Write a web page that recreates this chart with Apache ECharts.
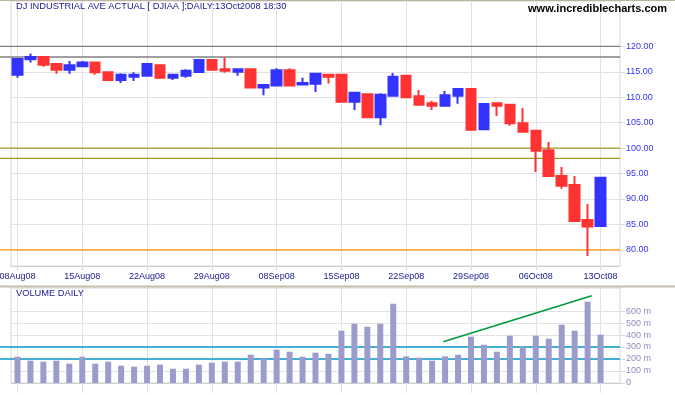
<!DOCTYPE html>
<html><head><meta charset="utf-8">
<script src="https://cdn.jsdelivr.net/npm/echarts@6/dist/echarts.min.js"></script>
<style>html,body{margin:0;padding:0;background:#fff}#c{width:675px;height:395px}</style>
</head><body><div id="c"></div>
<script>
// ---- data ----
const dates = ['08Aug08','11Aug08','12Aug08','13Aug08','14Aug08','15Aug08','18Aug08','19Aug08','20Aug08','21Aug08',
  '22Aug08','25Aug08','26Aug08','27Aug08','28Aug08','29Aug08','02Sep08','03Sep08','04Sep08','05Sep08',
  '08Sep08','09Sep08','10Sep08','11Sep08','12Sep08','15Sep08','16Sep08','17Sep08','18Sep08','19Sep08',
  '22Sep08','23Sep08','24Sep08','25Sep08','26Sep08','29Sep08','30Sep08','01Oct08','02Oct08','03Oct08',
  '06Oct08','07Oct08','08Oct08','09Oct08','10Oct08','13Oct08'];
const tickLabels = ['08Aug08','15Aug08','22Aug08','29Aug08','08Sep08','15Sep08','22Sep08','29Sep08','06Oct08','13Oct08'];
const openV  = [114.4,117.45,117.9,116.5,115.4,116.1,116.8,114.9,113.4,114.0,114.2,116.3,113.8,114.2,114.95,117.3,115.5,115.0,115.5,111.9,112.3,115.3,112.5,112.65,114.4,114.4,109.1,110.6,106.05,110.3,114.2,110.2,108.8,108.3,110.3,111.6,103.7,108.8,108.5,104.9,103.4,99.6,94.5,92.75,85.9,84.7];
const closeV = [117.5,117.9,116.4,115.4,116.3,116.8,114.9,113.4,114.4,114.4,116.5,113.8,114.4,115.2,117.3,115.4,115.2,115.5,111.9,112.4,115.3,112.3,112.8,114.6,114.0,109.1,110.9,106.05,110.5,114.0,110.0,108.5,108.3,110.4,111.6,103.6,108.65,108.3,104.9,103.2,99.5,94.5,92.6,85.7,84.6,94.2];
const lowV   = [113.8,116.8,116.0,114.6,114.6,116.0,114.4,113.2,112.8,113.2,114.2,113.6,113.4,113.8,114.9,115.4,114.8,114.2,111.9,110.4,112.3,112.3,112.3,111.0,112.7,109.1,107.5,105.85,104.5,110.3,109.8,108.3,107.5,108.3,108.7,103.6,103.7,106.3,104.4,103.2,95.3,94.3,92.0,85.7,78.8,84.7];
const highV  = [117.6,118.6,118.0,116.5,117.1,117.1,116.9,114.9,114.7,114.9,116.5,116.3,114.4,115.5,117.3,117.3,117.84,115.5,115.5,112.4,115.7,115.7,113.8,114.6,114.6,114.4,110.9,110.6,110.8,114.75,114.2,111.4,109.3,111.2,111.6,111.6,108.65,108.9,108.5,107.9,103.4,101.2,96.3,94.5,89.0,94.3];
const volume = [219,186,178,186,161,219,161,178,144,136,144,153,119,119,153,169,178,178,236,203,278,261,219,253,244,436,494,469,494,661,222,211,186,222,236,386,319,261,394,303,394,369,486,436,678,403];
const priceTicks = [80,85,90,95,100,105,110,115,120];
const volumeTicks = [0,100,200,300,400,500,600];
const grayLevels = [120, 117.9];
const oliveLevels = [100, 98];
const orangeLevels = [80];
const volumeLevels = [300, 200];
const volTrend = [[32.86, 344], [44.32, 728]];

// ---- layout ----
const FONT = 'Liberation Sans, Arial, sans-serif';
const plotL = 11, plotR = 620, W = 675;
const slots = dates.length + 1;
const band = (plotR - plotL) / slots;
const ovMin = -0.5 - plotL / band, ovMax = slots - 0.5;
const cats = dates.concat(['']);
const showIdx = (i, v) => tickLabels.indexOf(cats[i]) >= 0;
const priceMin = 76.84, priceMax = 128.9, volMax = 792;

const candles = dates.map((d, i) => [openV[i], closeV[i], lowV[i], highV[i]]);

function levelSeries(levels, color, width, xAxisIndex, yAxisIndex) {
  return levels.map(v => ({
    type: 'line', xAxisIndex, yAxisIndex, silent: true, symbol: 'none', animation: false,
    lineStyle: { color, width }, data: [[ovMin, v], [ovMax, v]], z: 3
  }));
}

const chart = echarts.init(document.getElementById('c'), null, { renderer: 'canvas' });
chart.setOption({
  animation: false,
  backgroundColor: '#ffffff',
  title: [
    { text: 'DJ INDUSTRIAL AVE ACTUAL [ DJIAA ]:DAILY:13Oct2008 18:30', left: 16, top: 2, padding: 0,
      textStyle: { fontFamily: FONT, fontSize: 9.3, fontWeight: 'normal', color: '#1a1a8c' } },
    { text: 'www.incrediblecharts.com', right: 8, top: 3, padding: 0,
      textStyle: { fontFamily: FONT, fontSize: 11, fontWeight: 'bold', color: '#000000' } },
    { text: 'VOLUME DAILY', left: 16, top: 289, padding: 0,
      textStyle: { fontFamily: FONT, fontSize: 9.3, fontWeight: 'normal', color: '#1a1a8c' } }
  ],
  graphic: [
    { type: 'line', shape: { x1: 0, y1: 0.5, x2: W, y2: 0.5 }, style: { stroke: '#b8b4a0', lineWidth: 1 }, silent: true },
    { type: 'line', shape: { x1: 0, y1: 286.5, x2: W, y2: 286.5 }, style: { stroke: '#c4c0ac', lineWidth: 2 }, silent: true }
  ],
  grid: [
    { left: plotL, right: W - plotR, top: 1, height: 265, show: true, borderColor: '#d6d6d6', borderWidth: 1, outerBoundsMode: 'none', containLabel: false },
    { left: plotL, right: W - plotR, top: 288, height: 95, show: true, borderColor: '#d6d6d6', borderWidth: 1, outerBoundsMode: 'none', containLabel: false },
    { left: 0, right: W - plotR, top: 1, height: 265, outerBoundsMode: 'none', containLabel: false },
    { left: 0, right: W - plotR, top: 288, height: 95, outerBoundsMode: 'none', containLabel: false }
  ],
  xAxis: [
    { type: 'category', gridIndex: 0, data: cats, boundaryGap: true,
      axisLine: { show: true, lineStyle: { color: '#d0d0d0' } },
      axisTick: { show: true, interval: showIdx, alignWithLabel: true, length: 4, lineStyle: { color: '#d8d8d8' } },
      axisLabel: { show: true, interval: showIdx, margin: 6, fontFamily: FONT, fontSize: 9, color: '#1a1a8c' },
      splitLine: { show: true, interval: showIdx, alignWithLabel: true, lineStyle: { color: '#e2e2e2', width: 1 } } },
    { type: 'category', gridIndex: 1, data: cats, boundaryGap: true,
      axisLine: { show: true, lineStyle: { color: '#d0d0d0' } },
      axisTick: { show: true, interval: showIdx, alignWithLabel: true, length: 10, lineStyle: { color: '#e2e2e2' } },
      axisLabel: { show: false },
      splitLine: { show: true, interval: showIdx, alignWithLabel: true, lineStyle: { color: '#e2e2e2', width: 1 } } },
    { type: 'value', gridIndex: 2, min: ovMin, max: ovMax, show: false },
    { type: 'value', gridIndex: 3, min: ovMin, max: ovMax, show: false }
  ],
  yAxis: [
    { type: 'value', gridIndex: 0, position: 'right', min: priceMin, max: priceMax,
      axisLine: { show: false },
      axisTick: { show: true, length: 5, customValues: priceTicks, lineStyle: { color: '#d8d8d8' } },
      axisLabel: { show: true, customValues: priceTicks, margin: 6, fontFamily: FONT, fontSize: 9, color: '#3535f0',
        formatter: v => v.toFixed(2) },
      splitLine: { show: true, lineStyle: { color: '#e2e2e2', width: 1 } } },
    { type: 'value', gridIndex: 1, position: 'right', min: 0, max: volMax,
      axisLine: { show: false },
      axisTick: { show: true, length: 5, customValues: volumeTicks, lineStyle: { color: '#d8d8d8' } },
      axisLabel: { show: true, customValues: volumeTicks, margin: 6, fontFamily: FONT, fontSize: 9, color: '#8c8cc0',
        formatter: v => (v === 0 ? '0' : v + ' m') },
      splitLine: { show: true, lineStyle: { color: '#e2e2e2', width: 1 } } },
    { type: 'value', gridIndex: 2, min: priceMin, max: priceMax, show: false },
    { type: 'value', gridIndex: 3, min: 0, max: volMax, show: false }
  ],
  series: [
    { type: 'candlestick', xAxisIndex: 0, yAxisIndex: 0, data: candles, barWidth: 10, z: 5,
      itemStyle: { color: '#3333ff', color0: '#ff3333', borderColor: '#3333ff', borderColor0: '#ff3333', borderWidth: 2 } },
    { type: 'bar', xAxisIndex: 1, yAxisIndex: 1, data: volume, barWidth: 6, z: 5,
      itemStyle: { color: '#9c9ccc' } },
    ...levelSeries(grayLevels, '#808080', 1.3, 2, 2),
    ...levelSeries(oliveLevels, '#9c9c2a', 1.3, 2, 2),
    ...levelSeries(orangeLevels, '#ff9900', 1.3, 2, 2),
    ...levelSeries(volumeLevels, '#0a9acc', 1.5, 3, 3),
    { type: 'line', xAxisIndex: 3, yAxisIndex: 3, silent: true, symbol: 'none', z: 6,
      lineStyle: { color: '#00993a', width: 1.5 }, data: volTrend }
  ]
});
</script>
</body></html>
